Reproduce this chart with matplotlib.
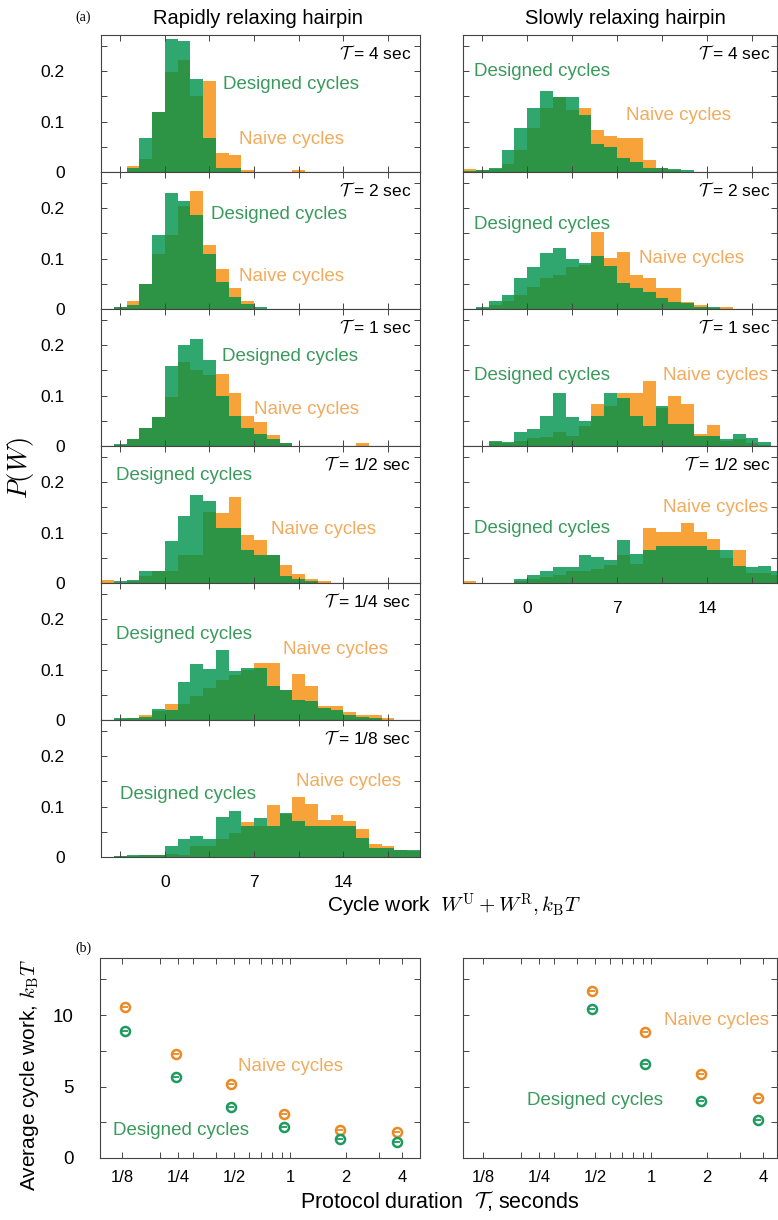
import numpy as np
import matplotlib
matplotlib.use("Agg")
import matplotlib.pyplot as plt
from matplotlib.ticker import FixedLocator, NullFormatter, LogLocator

plt.rcParams['font.family'] = ['Liberation Sans', 'DejaVu Sans']
plt.rcParams['mathtext.fontset'] = 'cm'

# Histogram bins: left edges, unit width, from -5 to 19
bin_edges = np.arange(-5, 20)

# Rapidly relaxing hairpin, P(W) per bin (designed / naive)
rapid_tau_labels = ["4", "2", "1", "1/2", "1/4", "1/8"]
rapid_designed_4 = [0, 0, .007, .068, .12, .264, .26, .185, .068, .008, .007, 0, 0, 0, 0, 0, 0, 0, 0, 0, 0, 0, 0, 0, 0]
rapid_naive_4 = [0, 0, .011, .025, .12, .199, .223, .15, .18, .038, .033, .004, 0, 0, 0, .004, 0, 0, 0, 0, 0, 0, 0, 0, 0]
rapid_designed_2 = [0, .003, .007, .05, .146, .231, .214, .187, .109, .053, .024, .009, .003, 0, 0, 0, 0, 0, 0, 0, 0, 0, 0, 0, 0]
rapid_naive_2 = [0, .003, .015, .049, .109, .147, .205, .234, .127, .079, .041, .015, 0, 0, 0, 0, 0, 0, 0, 0, 0, 0, 0, 0, 0]
rapid_designed_1 = [0, .004, .013, .035, .058, .158, .2, .213, .17, .1, .06, .035, .023, .013, .006, 0, 0, 0, 0, 0, 0, 0, 0, 0, 0]
rapid_naive_1 = [0, .002, .013, .035, .058, .097, .167, .15, .14, .143, .105, .06, .047, .021, .006, 0, 0, 0, 0, 0, .006, 0, 0, 0, 0]
rapid_designed_half = [0, .003, .005, .023, .023, .083, .133, .175, .163, .11, .11, .065, .055, .055, .013, .008, .003, 0, 0, 0, 0, 0, 0, 0, 0]
rapid_naive_half = [.005, 0, .003, .014, .023, .023, .055, .055, .14, .139, .17, .095, .085, .055, .035, .018, .008, .004, 0, 0, 0, 0, 0, 0, 0]
rapid_designed_quarter = [0, .003, .004, .005, .022, .019, .075, .111, .101, .138, .097, .103, .103, .067, .06, .04, .037, .023, .019, .01, .005, .003, 0, 0, 0]
rapid_naive_quarter = [0, .001, .003, .01, .017, .032, .032, .047, .063, .08, .09, .1, .113, .113, .06, .092, .067, .027, .027, .015, .01, .01, .004, 0, 0]
rapid_designed_eighth = [0, .002, .003, .003, .004, .021, .036, .042, .036, .079, .092, .062, .077, .061, .087, .071, .061, .062, .062, .061, .037, .017, .017, .014, .014]
rapid_naive_eighth = [0, .001, .002, .004, .003, .005, .004, .021, .021, .036, .047, .069, .061, .103, .085, .119, .105, .074, .084, .071, .055, .026, .022, .013, .012]

# Slowly relaxing hairpin
slow_tau_labels = ["4", "2", "1", "1/2"]
slow_designed_4 = [.002, .004, .008, .043, .088, .127, .161, .148, .148, .113, .055, .05, .027, .02, .008, .007, .005, .004, 0, 0, 0, 0, 0, 0, 0]
slow_naive_4 = [.006, .003, .005, .015, .043, .088, .127, .148, .123, .127, .083, .072, .067, .067, .023, .008, .003, 0, 0, 0, 0, 0, 0, 0, 0]
slow_designed_2 = [0, .003, .015, .027, .061, .083, .111, .122, .099, .091, .106, .086, .051, .041, .034, .021, .014, .011, .004, .003, 0, 0, 0, 0, 0]
slow_naive_2 = [0, .001, .007, .015, .027, .044, .061, .067, .084, .088, .152, .102, .114, .067, .062, .041, .041, .014, .007, .002, .003, 0, 0, 0, 0]
slow_designed_1 = [0, 0, .01, .007, .027, .033, .06, .105, .058, .05, .06, .105, .095, .06, .04, .08, .043, .043, .02, .02, .013, .023, .015, .007, 0]
slow_naive_1 = [0, 0, .008, .005, .01, .015, .017, .028, .02, .04, .083, .08, .105, .105, .13, .075, .1, .083, .023, .041, .01, .013, .005, .002, 0]
slow_designed_half = [0, 0, 0, 0, .007, .015, .023, .031, .031, .055, .051, .046, .086, .058, .065, .073, .073, .073, .073, .065, .066, .033, .031, .033, .023]
slow_naive_half = [.004, 0, 0, 0, .003, .008, .011, .015, .023, .023, .028, .035, .055, .038, .109, .101, .101, .119, .101, .088, .05, .065, .02, .02, .015]

# Average cycle work vs protocol duration
rapid_tau = [0.13, 0.245, 0.48, 0.93, 1.86, 3.75]
rapid_naive_mean = [10.6, 7.3, 5.2, 3.1, 1.95, 1.8]
rapid_designed_mean = [8.9, 5.7, 3.6, 2.2, 1.35, 1.15]
slow_tau = [0.48, 0.93, 1.86, 3.75]
slow_naive_mean = [11.7, 8.8, 5.9, 4.2]
slow_designed_mean = [10.45, 6.6, 4.0, 2.65]

# Colours
ORANGE = "#F8A23A"
LIGHT_GREEN = "#30A76E"
DARK_GREEN = "#2D9345"
TEXT_GREEN = "#3A9A5C"
TEXT_ORANGE = "#F2AB5E"
DOT_ORANGE = "#E98A25"
DOT_GREEN = "#1E9A5E"
SPINE = "#444444"

W, H = 778, 1220


def box(x0, y0, x1, y1):
    """Pixel box (top-left origin) to figure fraction rect."""
    return [x0 / W, 1 - y1 / H, (x1 - x0) / W, (y1 - y0) / H]


def style_axes(ax):
    for spine in ax.spines.values():
        spine.set_color(SPINE)
        spine.set_linewidth(0.8)
    ax.tick_params(which="both", direction="in", top=True, right=True,
                   length=4, width=0.7, color=SPINE, labelsize=12.5)


def draw_hist(ax, designed, naive, tau_label, designed_pos, naive_pos, tau_x,
              show_x, show_y, xmax):
    designed = np.array(designed)
    naive = np.array(naive)
    ax.bar(bin_edges, naive, width=1, align="edge", color=ORANGE, linewidth=0)
    ax.bar(bin_edges, designed, width=1, align="edge", color=LIGHT_GREEN, linewidth=0)
    ax.bar(bin_edges, np.minimum(designed, naive), width=1, align="edge",
           color=DARK_GREEN, linewidth=0)
    ax.set_xlim(-5, xmax)
    ax.set_ylim(0, 0.272)
    style_axes(ax)
    ax.xaxis.set_major_locator(FixedLocator([0, 7, 14]))
    ax.xaxis.set_minor_locator(FixedLocator([-3.5, 3.5, 10.5, 17.5]))
    ax.yaxis.set_major_locator(FixedLocator([0, 0.1, 0.2]))
    ax.yaxis.set_minor_locator(FixedLocator([0.05, 0.15, 0.25]))
    ax.set_xticklabels(["0", "7", "14"] if show_x else [])
    ax.set_yticklabels(["0", "0.1", "0.2"] if show_y else [])
    ax.tick_params(axis="x", pad=13)
    ax.tick_params(axis="y", pad=26)
    ax.text(tau_x, 0.236, r"$\mathcal{T}$" + " = " + tau_label + " sec",
            ha="right", va="center", fontsize=12.5)
    ax.text(designed_pos[0], designed_pos[1], "Designed cycles", color=TEXT_GREEN,
            ha="left", va="center", fontsize=13.5)
    ax.text(naive_pos[0], naive_pos[1], "Naive cycles", color=TEXT_ORANGE,
            ha="left", va="center", fontsize=13.5)


fig = plt.figure(figsize=(W / 100, H / 100), dpi=100)

row_tops = [35, 172, 309, 446, 583, 720]
row_h = 137

rapid_designed = [rapid_designed_4, rapid_designed_2, rapid_designed_1,
                  rapid_designed_half, rapid_designed_quarter, rapid_designed_eighth]
rapid_naive = [rapid_naive_4, rapid_naive_2, rapid_naive_1,
               rapid_naive_half, rapid_naive_quarter, rapid_naive_eighth]
rapid_designed_text = [(4.6, 0.174), (3.65, 0.187), (4.5, 0.177), (-3.84, 0.213), (-3.84, 0.17), (-3.5, 0.124)]
rapid_naive_text = [(5.8, 0.064), (5.8, 0.064), (7.0, 0.073), (8.3, 0.107), (9.3, 0.14), (10.3, 0.15)]

for i in range(6):
    ax = fig.add_axes(box(101, row_tops[i], 420, row_tops[i] + row_h))
    draw_hist(ax, rapid_designed[i], rapid_naive[i], rapid_tau_labels[i],
              rapid_designed_text[i], rapid_naive_text[i], 19.3,
              show_x=(i == 5), show_y=True, xmax=20)

slow_designed = [slow_designed_4, slow_designed_2, slow_designed_1, slow_designed_half]
slow_naive = [slow_naive_4, slow_naive_2, slow_naive_1, slow_naive_half]
slow_designed_text = [(-4.15, 0.2), (-4.15, 0.167), (-4.15, 0.14), (-4.15, 0.109)]
slow_naive_text = [(7.66, 0.113), (8.7, 0.1), (10.57, 0.14), (10.57, 0.149)]

for i in range(4):
    ax = fig.add_axes(box(463, row_tops[i], 777, row_tops[i] + row_h))
    draw_hist(ax, slow_designed[i], slow_naive[i], slow_tau_labels[i],
              slow_designed_text[i], slow_naive_text[i], 18.95,
              show_x=(i == 3), show_y=False, xmax=19.45)

fig.text(75 / W, 1 - 17 / H, "(a)", family="Liberation Serif", fontsize=10, ha="left", va="center")
fig.text(258 / W, 1 - 18 / H, "Rapidly relaxing hairpin", fontsize=14.5, ha="center", va="center")
fig.text(625 / W, 1 - 18 / H, "Slowly relaxing hairpin", fontsize=14.5, ha="center", va="center")
fig.text(20 / W, 1 - 468 / H, r"$P(W)$", fontsize=19, rotation=90, ha="center", va="center")
fig.text(454 / W, 1 - 906 / H, r"Cycle work  $W^{\rm U} + W^{\rm R}, k_{\rm B}T$",
         fontsize=15, ha="center", va="center")

# Panel (b): average cycle work
tick_vals = [1 / 8, 1 / 4, 1 / 2, 1, 2, 4]
tick_text = ["1/8", "1/4", "1/2", "1", "2", "4"]


def draw_mean(ax, tau, naive, designed, xlim, show_y, naive_pos, designed_pos):
    for vals, col in [(naive, DOT_ORANGE), (designed, DOT_GREEN)]:
        ax.errorbar(tau, vals, yerr=0.15, fmt="o", ms=6.5, mfc="white", mec=col,
                    mew=1.8, ecolor=col, elinewidth=1.2, capsize=2.5, capthick=1.2)
        ax.plot(tau, vals, "_", ms=4.5, mew=1.3, color=col, zorder=5)
    ax.set_xscale("log")
    ax.set_xlim(*xlim)
    ax.set_ylim(0, 14)
    style_axes(ax)
    ax.xaxis.set_major_locator(FixedLocator(tick_vals))
    ax.xaxis.set_minor_locator(LogLocator(base=10, subs=np.arange(2, 10)))
    ax.xaxis.set_minor_formatter(NullFormatter())
    ax.set_xticklabels(tick_text)
    ax.yaxis.set_major_locator(FixedLocator([0, 5, 10]))
    ax.yaxis.set_minor_locator(FixedLocator([2.5, 7.5, 12.5]))
    ax.set_yticklabels(["0", "5", "10"] if show_y else [])
    ax.tick_params(axis="x", which="major", labelsize=12, pad=9)
    ax.tick_params(axis="y", which="major", labelsize=13.5, pad=19)
    ax.text(naive_pos[0], naive_pos[1], "Naive cycles", color=TEXT_ORANGE,
            ha="left", va="center", fontsize=13.5)
    ax.text(designed_pos[0], designed_pos[1], "Designed cycles", color=TEXT_GREEN,
            ha="left", va="center", fontsize=13.5)


ax_b1 = fig.add_axes(box(100, 958, 420, 1158))
draw_mean(ax_b1, rapid_tau, rapid_naive_mean, rapid_designed_mean, (0.0953, 4.99), True,
          (0.526, 6.43), (0.112, 1.9))
ax_b2 = fig.add_axes(box(463, 958, 777, 1158))
draw_mean(ax_b2, slow_tau, slow_naive_mean, slow_designed_mean, (0.0976, 4.75), False,
          (1.18, 9.6), (0.215, 4.0))

fig.text(75 / W, 1 - 948 / H, "(b)", family="Liberation Serif", fontsize=10, ha="left", va="center")
fig.text(30 / W, 1 - 1075 / H, r"Average cycle work, $k_{\rm B}T$", fontsize=15,
         rotation=90, ha="center", va="center")
fig.text(440 / W, 1 - 1201 / H, r"Protocol duration  $\mathcal{T}$, seconds", fontsize=15.5,
         ha="center", va="center")

fig.savefig("out.png", dpi=100)
